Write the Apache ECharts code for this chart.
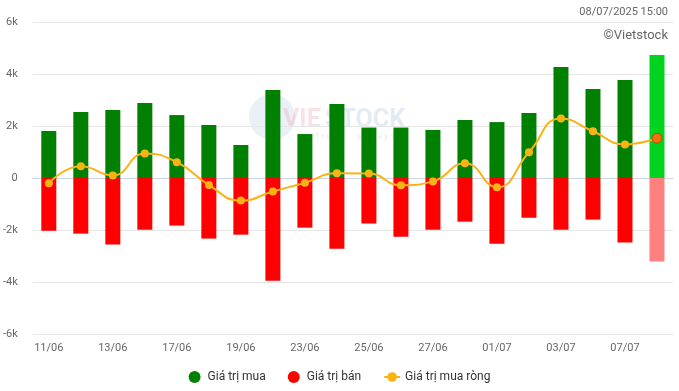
<!DOCTYPE html>
<html>
<head>
<meta charset="utf-8">
<script src="https://cdn.jsdelivr.net/npm/echarts@6/dist/echarts.min.js"></script>
<style>html,body{margin:0;padding:0;background:#fff}#c{width:679px;height:391px}</style>
</head>
<body>
<div id="c"></div>
<script>
const categories = ["11/06","12/06","13/06","16/06","17/06","18/06","19/06","20/06","23/06","24/06","25/06","26/06","27/06","30/06","01/07","02/07","03/07","04/07","07/07","08/07"];
const buyValues = [1810,2540,2620,2880,2420,2040,1270,3380,1690,2850,1940,1940,1850,2230,2150,2500,4270,3420,3770,4730];
const sellValues = [-2030,-2140,-2560,-1990,-1830,-2330,-2180,-3950,-1910,-2720,-1750,-2260,-1990,-1680,-2530,-1530,-1990,-1600,-2480,-3210];
const netValues = [-200,450,100,940,610,-270,-870,-520,-180,180,170,-280,-130,570,-360,990,2290,1800,1290,1530];
const yTicks = [-6000,-4000,-2000,0,2000,4000,6000];

const last = categories.length - 1;
const buyData = buyValues.map((v,i)=> i===last ? {value:v,itemStyle:{color:'#00d41f'}} : v);
const sellData = sellValues.map((v,i)=> i===last ? {value:v,itemStyle:{color:'#ff8080'}} : v);
const netData = netValues.map((v,i)=> i===last ? {value:v,symbolSize:10,itemStyle:{color:'#f5700a',borderColor:'#b04e10',borderWidth:1}} : v);

const chart = echarts.init(document.getElementById('c'), null, {renderer:'canvas'});
chart.setOption({
  animation:false,
  textStyle:{fontFamily:'Roboto'},
  grid:{left:32,right:6,top:22,bottom:57,containLabel:false},
  graphic:[
    {type:'circle',z:0,shape:{cx:272,cy:117,r:23},style:{fill:'rgba(170,195,225,0.25)'}},
    {type:'text',z:0,left:283,top:108,style:{text:'VIE',font:'bold 25px Roboto',fill:'rgba(235,150,160,0.28)'}},
    {type:'text',z:0,left:325,top:108,style:{text:'STOCK',font:'bold 25px Roboto',fill:'rgba(170,190,215,0.3)'}},
    {type:'text',z:0,left:316,top:132,style:{text:'t r e e s     a l w a y s',font:'9px Roboto',fill:'rgba(170,190,215,0.3)'}},
    {type:'text',right:11,top:7,style:{text:'08/07/2025 15:00',font:'11px Roboto',fill:'#666'}},
    {type:'text',right:11,top:29,style:{text:'©Vietstock',font:'13px Roboto',fill:'#666'}}
  ],
  legend:{
    bottom:3,left:'center',itemGap:22,itemWidth:16,itemHeight:12,
    textStyle:{fontSize:12,color:'#333',fontFamily:'Roboto'},
    data:[
      {name:'Giá trị mua',icon:'circle'},
      {name:'Giá trị bán',icon:'circle'},
      {name:'Giá trị mua ròng'}
    ]
  },
  xAxis:{
    type:'category',data:categories,
    axisLine:{lineStyle:{color:'#ccd6eb'}},
    axisTick:{show:false},
    axisLabel:{interval:1,color:'#666',fontSize:11,margin:9}
  },
  yAxis:{
    type:'value',min:-6000,max:6000,interval:2000,
    axisLabel:{color:'#666',fontSize:11,margin:15,formatter:v=> yTicks.includes(v) ? (v===0?'0':(v/1000)+'k') : ''},
    splitLine:{lineStyle:{color:'#e6e6e6'}}
  },
  series:[
    {name:'Giá trị mua',type:'bar',stack:'a',barWidth:15,data:buyData,itemStyle:{color:'#008000'}},
    {name:'Giá trị bán',type:'bar',stack:'a',barWidth:15,data:sellData,itemStyle:{color:'#ff0000'}},
    {name:'Giá trị mua ròng',type:'line',smooth:true,data:netData,symbol:'circle',symbolSize:8,
      lineStyle:{color:'#fab315',width:2},itemStyle:{color:'#fab315'},z:5}
  ]
});
</script>
</body>
</html>
